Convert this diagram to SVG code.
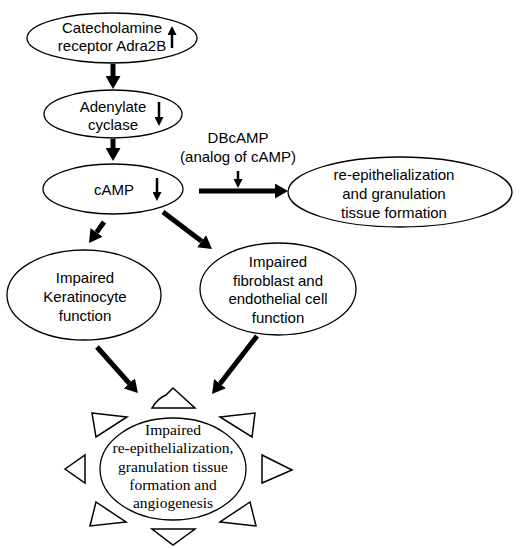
<svg xmlns="http://www.w3.org/2000/svg" width="520" height="550" viewBox="0 0 520 550">
<style>
.n{fill:#fff;stroke:#000;stroke-width:1.3}
.t{font-family:"Liberation Sans",Arial,sans-serif;font-size:15px;fill:#000;text-anchor:middle}
.s{font-family:"Liberation Serif","Times New Roman",serif;font-size:15.5px;fill:#000;text-anchor:middle}
.a{stroke:#000;stroke-width:5;fill:none}
.sa{stroke:#000;stroke-width:2.5;fill:none}
.tri{fill:#fff;stroke:#000;stroke-width:1.5;stroke-linejoin:miter}
</style>
<defs>
<marker id="ah" viewBox="0 0 13 15" refX="0" refY="7.5" markerWidth="13" markerHeight="15" markerUnits="userSpaceOnUse" orient="auto">
<path d="M0,0 L13,7.5 L0,15 Z" fill="#000"/>
</marker>
<marker id="sh" viewBox="0 0 9 9" refX="0" refY="4.5" markerWidth="9" markerHeight="9" markerUnits="userSpaceOnUse" orient="auto">
<path d="M0,0 L9,4.5 L0,9 Z" fill="#000"/>
</marker>
</defs>

<g id="connectors">
<line class="a" x1="113" y1="64" x2="113" y2="76" marker-end="url(#ah)"/>
<line class="a" x1="113" y1="139" x2="113" y2="148" marker-end="url(#ah)"/>
<line class="a" x1="104" y1="222" x2="96.6" y2="232.4" marker-end="url(#ah)"/>
<line class="a" x1="163" y1="212" x2="201.6" y2="241.2" marker-end="url(#ah)"/>
<line class="a" x1="199" y1="191" x2="275" y2="191" marker-end="url(#ah)"/>
<line class="sa" x1="238" y1="171" x2="238" y2="179" marker-end="url(#sh)"/>
<line class="a" x1="97" y1="347" x2="129.3" y2="383.3" marker-end="url(#ah)"/>
<line class="a" x1="257" y1="336" x2="220" y2="383.7" marker-end="url(#ah)"/>
</g>

<g id="node-catecholamine">
<ellipse class="n" cx="112" cy="38" rx="85" ry="25"/>
<text class="t" x="112" y="33">Catecholamine</text>
<text class="t" x="112" y="51">receptor Adra2B</text>
<line class="sa" x1="172" y1="48" x2="172" y2="35" marker-end="url(#sh)"/>
</g>

<g id="node-adenylate">
<ellipse class="n" cx="113" cy="114" rx="69" ry="24"/>
<text class="t" x="113" y="112">Adenylate</text>
<text class="t" x="113" y="130">cyclase</text>
<line class="sa" x1="159" y1="102" x2="159" y2="117" marker-end="url(#sh)"/>
</g>

<g id="node-camp">
<ellipse class="n" cx="113" cy="189" rx="70" ry="25"/>
<text class="t" x="114" y="195">cAMP</text>
<line class="sa" x1="157" y1="178" x2="157" y2="192" marker-end="url(#sh)"/>
</g>

<g id="node-dbcamp">
<text class="t" x="238" y="143">DBcAMP</text>
<text class="t" x="238" y="162">(analog of cAMP)</text>
</g>

<g id="node-reepi">
<ellipse class="n" cx="400" cy="192" rx="112" ry="35"/>
<text class="t" x="394" y="180">re-epithelialization</text>
<text class="t" x="394" y="199">and granulation</text>
<text class="t" x="394" y="218">tissue formation</text>
</g>

<g id="node-keratinocyte">
<ellipse class="n" cx="84" cy="295" rx="77" ry="45"/>
<text class="t" x="85" y="283">Impaired</text>
<text class="t" x="85" y="302">Keratinocyte</text>
<text class="t" x="85" y="321">function</text>
</g>

<g id="node-fibroblast">
<ellipse class="n" cx="278" cy="289" rx="78" ry="46"/>
<text class="t" x="278" y="267">Impaired</text>
<text class="t" x="278" y="286">fibroblast and</text>
<text class="t" x="278" y="304">endothelial cell</text>
<text class="t" x="278" y="323">function</text>
</g>

<g id="node-impaired">
<path class="tri" d="M152,408 Q158,398 166,395 L173,388 L195,408 Z"/>
<polygon class="tri" points="220,417 255,413 252,437"/>
<polygon class="tri" points="262,455 292,470 262,483"/>
<polygon class="tri" points="250,502 220,522 256,526"/>
<polygon class="tri" points="152,529 195,529 173,545"/>
<polygon class="tri" points="96,502 126,522 90,526"/>
<polygon class="tri" points="65,469 85,455 85,483"/>
<polygon class="tri" points="92,413 127,417 96,437"/>
<ellipse class="n" cx="173" cy="469" rx="73" ry="51"/>
<text class="s" x="173" y="435">Impaired</text>
<text class="s" x="173" y="453">re-epithelialization,</text>
<text class="s" x="173" y="472">granulation tissue</text>
<text class="s" x="173" y="490">formation and</text>
<text class="s" x="173" y="508">angiogenesis</text>
</g>
</svg>
